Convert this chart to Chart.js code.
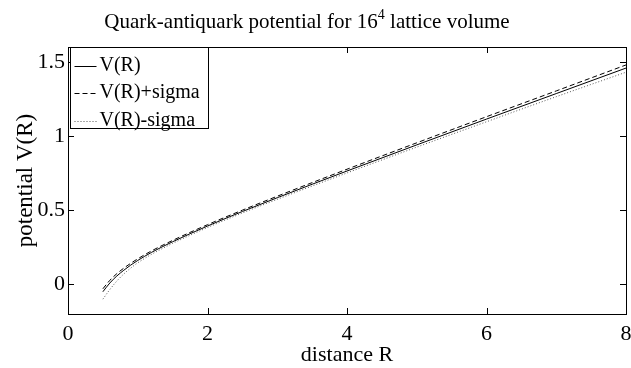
<!DOCTYPE html>
<html lang="en">
<head>
    <meta charset="UTF-8">
    <title>Quark-antiquark potential</title>
    <style>
        body { margin: 0; background: #fff; }
        #wrap { width: 631px; height: 368px; }
    </style>
</head>
<body>
    <div id="wrap"><canvas id="chart" width="631" height="368"></canvas></div>

    <script src="https://cdn.jsdelivr.net/npm/chart.js"></script>
    <script>
        // values
        const distance = [0.5, 0.6, 0.7, 0.8, 0.9, 1.0, 1.2, 1.5, 2.0, 2.5, 3.0, 4.0, 5.0, 6.0, 7.0, 8.0];
        const potential = [-0.05, 0.009, 0.056, 0.095, 0.13, 0.161, 0.216, 0.287, 0.393, 0.491, 0.584, 0.764, 0.94, 1.114, 1.286, 1.458];
        const potentialPlus = [-0.03, 0.027, 0.072, 0.109, 0.142, 0.172, 0.226, 0.296, 0.402, 0.5, 0.594, 0.776, 0.954, 1.13, 1.304, 1.479];
        const potentialMinus = [-0.1, -0.035, 0.022, 0.07, 0.11, 0.145, 0.203, 0.276, 0.383, 0.481, 0.573, 0.751, 0.925, 1.096, 1.265, 1.43];
        const xTicks = [0, 2, 4, 6, 8];
        const yTicks = [0, 0.5, 1, 1.5];

        const serif = '"Liberation Serif", "DejaVu Serif", serif';

        function toPoints(ys) {
            return distance.map((x, i) => ({ x: x, y: ys[i] }));
        }

        // title with superscript, plot box, inward ticks and boxed legend
        const decor = {
            id: 'decor',
            afterDraw(chart) {
                const ctx = chart.ctx;
                const a = chart.chartArea;
                const xs = chart.scales.x, ys = chart.scales.y;
                ctx.save();
                ctx.strokeStyle = '#000';
                ctx.fillStyle = '#000';
                ctx.lineWidth = 1;

                // box
                ctx.strokeRect(Math.round(a.left) + 0.5, Math.round(a.top) + 0.5,
                    Math.round(a.right - a.left), Math.round(a.bottom - a.top));

                // ticks pointing inward, mirrored
                ctx.beginPath();
                xTicks.forEach(v => {
                    const px = Math.round(xs.getPixelForValue(v)) + 0.5;
                    ctx.moveTo(px, a.bottom); ctx.lineTo(px, a.bottom - 6);
                    ctx.moveTo(px, a.top); ctx.lineTo(px, a.top + 6);
                });
                yTicks.forEach(v => {
                    const py = Math.round(ys.getPixelForValue(v)) + 0.5;
                    ctx.moveTo(a.left, py); ctx.lineTo(a.left + 6, py);
                    ctx.moveTo(a.right, py); ctx.lineTo(a.right - 6, py);
                });
                ctx.stroke();

                // title
                ctx.textBaseline = 'alphabetic';
                ctx.textAlign = 'left';
                const t1 = 'Quark-antiquark potential for 16';
                const t2 = '4';
                const t3 = ' lattice volume';
                ctx.font = '21px ' + serif;
                const w1 = ctx.measureText(t1).width;
                const w3 = ctx.measureText(t3).width;
                ctx.font = '14px ' + serif;
                const w2 = ctx.measureText(t2).width;
                const total = w1 + w2 + w3;
                let tx = 307 - total / 2;
                const ty = 28;
                ctx.font = '21px ' + serif;
                ctx.fillText(t1, tx, ty);
                ctx.font = '14px ' + serif;
                ctx.fillText(t2, tx + w1, ty - 9);
                ctx.font = '21px ' + serif;
                ctx.fillText(t3, tx + w1 + w2, ty);

                // legend
                const lx = Math.round(a.left) + 2.5, ly = Math.round(a.top) + 0.5;
                const lw = 138, lh = 81;
                ctx.fillStyle = '#fff';
                ctx.fillRect(lx, ly, lw, lh);
                ctx.strokeRect(lx, ly, lw, lh);
                ctx.font = '20px ' + serif;
                ctx.textBaseline = 'middle';
                chart.data.datasets.forEach((ds, i) => {
                    const cy = ly + 18 + i * 27.5;
                    ctx.save();
                    ctx.strokeStyle = ds.borderColor;
                    ctx.lineWidth = ds.borderWidth;
                    ctx.setLineDash(ds.borderDash || []);
                    ctx.beginPath();
                    ctx.moveTo(lx + 4, Math.round(cy) + 0.5);
                    ctx.lineTo(lx + 26, Math.round(cy) + 0.5);
                    ctx.stroke();
                    ctx.restore();
                    ctx.fillStyle = '#000';
                    ctx.fillText(ds.label, lx + 29, cy);
                });
                ctx.restore();
            }
        };

        new Chart(document.getElementById('chart'), {
            type: 'line',
            data: {
                datasets: [
                    { label: 'V(R)', data: toPoints(potential), borderColor: '#000', borderWidth: 1, borderDash: [], pointRadius: 0, cubicInterpolationMode: 'monotone' },
                    { label: 'V(R)+sigma', data: toPoints(potentialPlus), borderColor: '#000', borderWidth: 1, borderDash: [5, 3], pointRadius: 0, cubicInterpolationMode: 'monotone' },
                    { label: 'V(R)-sigma', data: toPoints(potentialMinus), borderColor: '#555', borderWidth: 1, borderDash: [1, 2], pointRadius: 0, cubicInterpolationMode: 'monotone' }
                ]
            },
            options: {
                responsive: false,
                animation: false,
                layout: { padding: { top: 47, right: 5, left: 0, bottom: 0 } },
                plugins: { legend: { display: false }, title: { display: false }, tooltip: { enabled: false } },
                scales: {
                    x: {
                        type: 'linear', min: 0, max: 8,
                        afterBuildTicks: s => { s.ticks = xTicks.map(v => ({ value: v })); },
                        afterFit: s => { s.height = 54; s.paddingRight = 5; s.paddingLeft = 0; },
                        grid: { display: false, drawTicks: false },
                        border: { display: false },
                        ticks: { color: '#000', font: { family: serif, size: 22 }, padding: 7, callback: v => String(v) },
                        title: { display: true, text: 'distance R', color: '#000', font: { family: serif, size: 22 }, padding: { top: 0, bottom: 0 } }
                    },
                    y: {
                        type: 'linear', min: -0.2, max: 1.6,
                        afterBuildTicks: s => { s.ticks = yTicks.map(v => ({ value: v })); },
                        afterFit: s => { s.width = 68; },
                        grid: { display: false, drawTicks: false },
                        border: { display: false },
                        ticks: { color: '#000', font: { family: serif, size: 22 }, padding: 3, callback: v => String(v) },
                        title: { display: true, text: 'potential V(R)', color: '#000', font: { family: serif, size: 23 }, padding: { top: 12, bottom: 0 } }
                    }
                }
            },
            plugins: [decor]
        });
    </script>
</body>
</html>
